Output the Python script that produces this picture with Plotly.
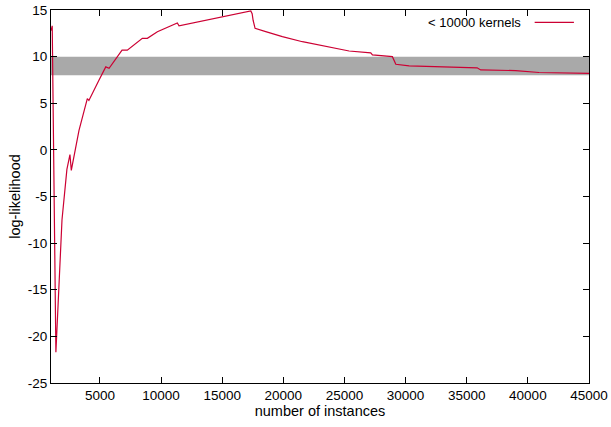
import plotly.graph_objects as go

# data
instances = [1000, 1100, 1400, 1650, 1900, 2300, 2550, 2660, 3290, 3970, 4100, 4930,
             5480, 5750, 6810, 7240, 8470, 8880, 9700, 11330, 11470, 17340, 17450,
             17530, 17690, 18560, 19920, 21560, 23190, 25380, 27150, 27290, 28920, 29200,
             30290, 35850, 36140, 39000, 40910, 44700, 45000]
loglik = [12.8, 13.3, -21.7, -15.0, -7.5, -2.1, -0.5, -2.2, 2.1, 5.5, 5.3, 7.5,
          8.9, 8.75, 10.7, 10.7, 11.96, 11.96, 12.67, 13.6, 13.3, 14.9, 14.6,
          13.9, 13.04, 12.68, 12.14, 11.6, 11.14, 10.6, 10.4, 10.18, 10.0, 9.18,
          9.0, 8.8, 8.57, 8.5, 8.3, 8.2, 8.2]
band_x = [1000, 45000]
band_low = [8.0, 8.0]
band_high = [10.0, 10.0]
series_name = "< 10000 kernels"
x_ticks = [5000, 10000, 15000, 20000, 25000, 30000, 35000, 40000, 45000]
y_ticks = [15, 10, 5, 0, -5, -10, -15, -20, -25]

line_color = "#cc0033"
font_family = "Liberation Sans, Arial, sans-serif"

fig = go.Figure()
fig.add_trace(go.Scatter(x=band_x, y=band_low, mode="lines", line=dict(width=0),
                         showlegend=False, hoverinfo="skip"))
fig.add_trace(go.Scatter(x=band_x, y=band_high, mode="lines", line=dict(width=0),
                         fill="tonexty", fillcolor="#a9a9a9", showlegend=False,
                         hoverinfo="skip"))
fig.add_trace(go.Scatter(x=instances, y=loglik, mode="lines", name=series_name,
                         line=dict(color=line_color, width=1.2), showlegend=False))

# gnuplot-style legend: text then sample line on the right
fig.add_annotation(x=0.877, y=0.967, xref="paper", yref="paper", text=series_name,
                   showarrow=False, xanchor="right", yanchor="middle",
                   font=dict(family=font_family, size=13, color="black"))
fig.add_shape(type="line", xref="paper", yref="paper", x0=0.899, x1=0.972,
              y0=0.967, y1=0.967, line=dict(color=line_color, width=1.2))

axis_common = dict(showline=True, linecolor="black", linewidth=1, mirror="ticks",
                   ticks="inside", ticklen=6, tickcolor="black", showgrid=False,
                   zeroline=False, automargin=False,
                   tickfont=dict(family=font_family, size=13.5, color="black"))

fig.update_xaxes(range=[1000, 45000], tickvals=x_ticks,
                 ticktext=[str(v) for v in x_ticks],
                 title=dict(text="number of instances", standoff=3,
                            font=dict(family=font_family, size=14.5, color="black")),
                 **axis_common)
fig.update_yaxes(range=[-25, 15], tickvals=y_ticks,
                 ticktext=[str(v) for v in y_ticks],
                 title=dict(text="log-likelihood", standoff=3,
                            font=dict(family=font_family, size=14.5, color="black")),
                 **axis_common)

fig.update_layout(width=611, height=427, margin=dict(l=51, r=22, t=10, b=44),
                  paper_bgcolor="white", plot_bgcolor="white",
                  font=dict(family=font_family, color="black"))

fig.write_html("out.html")
